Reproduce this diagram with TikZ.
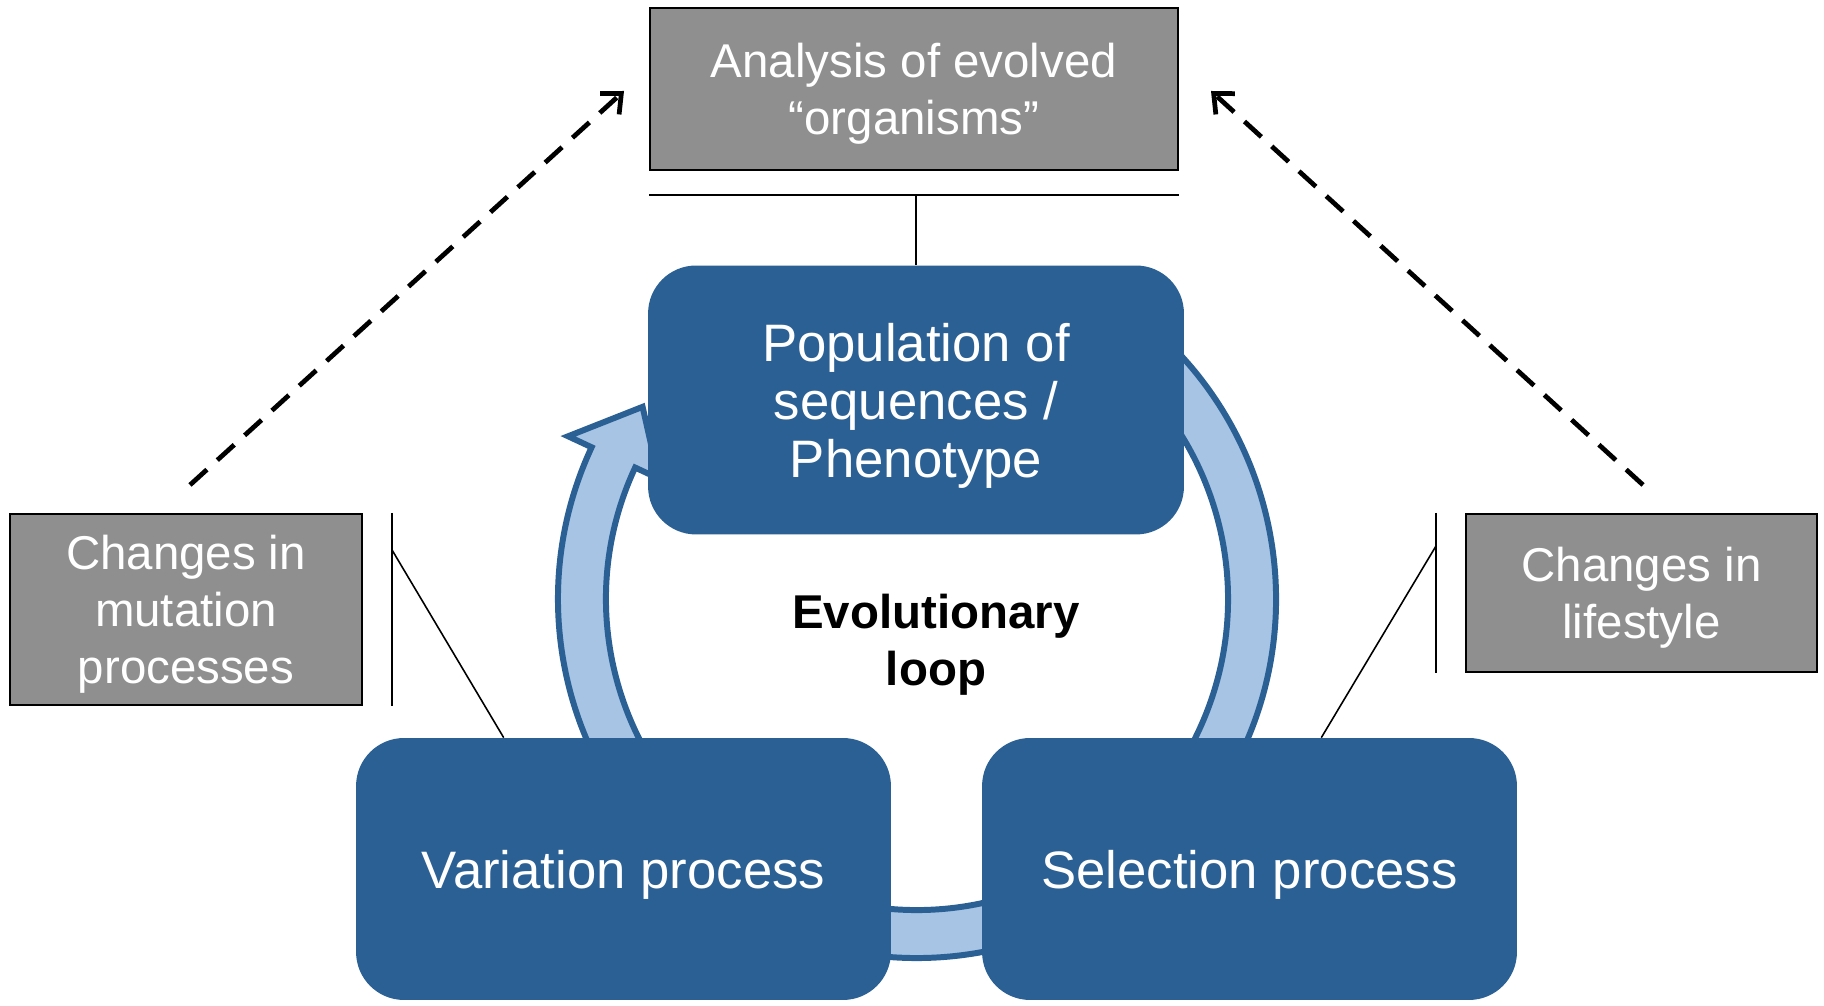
\documentclass[tikz,border=0pt]{standalone}
\usepackage{fontspec}
\setmainfont{Liberation Sans}
\usetikzlibrary{arrows.meta, positioning}

\definecolor{stageblue}{RGB}{43,96,148}
\definecolor{ringblue}{RGB}{167,196,228}
\definecolor{factorgray}{RGB}{143,143,143}

\begin{document}
\begin{tikzpicture}[>={Straight Barb[length=9pt,width=16pt]}, x=0.02cm, y=0.02cm,
  stage/.style={fill=stageblue, rounded corners=0.96cm, text=white, align=center,
    font=\fontsize{30}{33}\selectfont, inner sep=0pt, text depth=-1.5pt},
  factor/.style={draw=black, line width=1.2pt, fill=factorgray, text=white, align=center,
    font=\fontsize{27}{32.4}\selectfont, inner sep=0pt, text depth=-1.5pt},
  link/.style={line width=0.9pt},
  influence/.style={->, line width=2.7pt, dash pattern=on 13pt off 8pt},
  ring/.style={fill=ringblue, draw=stageblue, line width=3.4pt, line join=miter}]
\useasboundingbox (0,0) rectangle (1824,1006);
%
% loop arrow, behind the boxes
\begin{scope}[shift={(917,407)}]
\filldraw[ring] (60:359) arc[start angle=60, end angle=-205, radius=359]
  -- (155:385) -- (145:335) -- (155:285) -- (155:311)
  arc[start angle=-205, end angle=60, radius=311] -- cycle;
\end{scope}
%
\node[factor, minimum width=10.56cm, minimum height=3.24cm] (analysis) at (914,917) {Analysis of evolved\\“organisms”};
\node[stage, minimum width=10.72cm, minimum height=5.38cm] (population) at (916,606) {Population of\\sequences /\\Phenotype};
\node[stage, minimum width=10.7cm, minimum height=5.24cm] (variation) at (623.5,137) {Variation process};
\node[stage, minimum width=10.7cm, minimum height=5.24cm] (selection) at (1249.5,137) {Selection process};
\node[factor, minimum width=7.04cm, minimum height=3.82cm] (mutation) at (186,396.5) {Changes in\\mutation\\processes};
\node[factor, minimum width=7.02cm, minimum height=3.16cm] (lifestyle) at (1641.5,413) {Changes in\\lifestyle};
\node[font=\bfseries\fontsize{27}{32.4}\selectfont, align=center, text depth=-1.5pt] (loop) at (936,366) {Evolutionary\\loop};
%
% bracket lines
\coordinate (analysis bar) at ([shift={(0,-24)}]analysis.south);
\draw[link] ([shift={(0,-24)}]analysis.south west) -- ([shift={(0,-24)}]analysis.south east);
\draw[link] (population.north) -- (population.north |- analysis bar);
\draw[link] ([shift={(29,0)}]mutation.north east) -- ([shift={(29,0)}]mutation.south east);
\draw[link] ([shift={(29,-37)}]mutation.north east) -- ([shift={(148,0)}]variation.north west);
\draw[link] ([shift={(-29,0)}]lifestyle.north west) -- ([shift={(-29,0)}]lifestyle.south west);
\draw[link] ([shift={(-29,-33)}]lifestyle.north west) -- ([shift={(-196,0)}]selection.north east);
%
\draw[influence] ([shift={(4,28)}]mutation.north) -- ([shift={(-25,-2)}]analysis.west);
\draw[influence] ([shift={(1.5,28)}]lifestyle.north) -- ([shift={(32,-2)}]analysis.east);
\end{tikzpicture}
\end{document}
